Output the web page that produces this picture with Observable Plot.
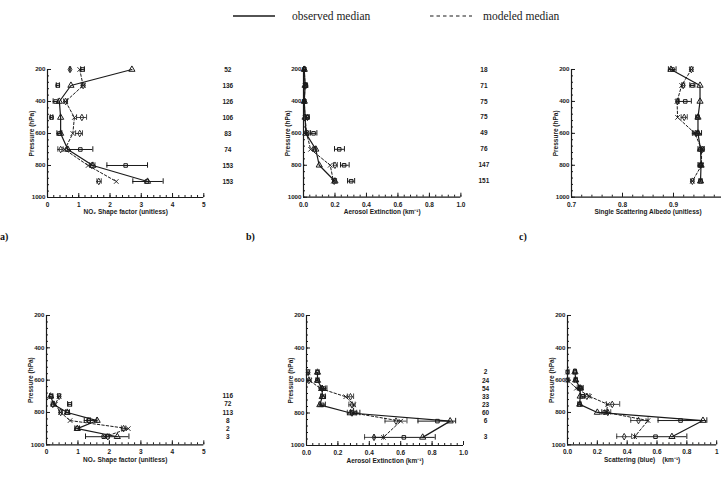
<!DOCTYPE html>
<html><head><meta charset="utf-8">
<script src="https://cdn.jsdelivr.net/npm/d3@7"></script>
<script src="https://cdn.jsdelivr.net/npm/@observablehq/plot@0.6"></script>
<style>
body{margin:0;background:#fff;}
#fig{position:relative;width:721px;height:484px;overflow:hidden;background:#fff;}
#fig svg.panel{position:absolute;}
.plab{position:absolute;font-family:"Liberation Serif","Times New Roman",serif;font-size:10px;font-weight:bold;color:#111;}
</style></head><body><div id="fig"></div>
<script>
// ---------- data ----------
const levelsTop = [200, 300, 400, 500, 600, 700, 800, 900];
const levelsD = [700, 750, 800, 850, 900, 950];
const levelsEF = [550, 600, 650, 700, 750, 800, 850, 950];

// a) NO2 shape factor, top
const aObsMed = [2.7, 0.75, 0.38, 0.42, 0.42, 0.65, 1.45, 3.2];
const aModMed = [1.03, 1.14, 0.58, 0.86, 0.81, 0.55, 1.3, 2.2];
const aObsMean = [1.12, 0.33, 0.26, 0.13, 0.38, 1.05, 2.5, 3.18];
const aObsLo = [1.06, 0.28, 0.18, 0.09, 0.3, 0.65, 1.9, 2.73];
const aObsHi = [1.18, 0.38, 0.34, 0.17, 0.46, 1.45, 3.2, 3.7];
const aModMean = [0.72, 1.14, 0.58, 1.1, 1.03, 0.42, 1.42, 1.64];
const aModLo = [0.7, 1.08, 0.52, 0.93, 0.9, 0.33, 1.35, 1.58];
const aModHi = [0.74, 1.2, 0.64, 1.25, 1.12, 0.5, 1.52, 1.72];
const aCounts = [52, 136, 126, 106, 83, 74, 153, 153];

// b) aerosol extinction, top
const bObsMed = [0.005, 0.01, 0.005, 0.01, 0.015, 0.078, 0.1, 0.2];
const bModMed = [0.005, 0.01, 0.005, 0.01, 0.02, 0.045, 0.17, 0.19];
const bObsMean = [0.005, 0.015, 0.005, 0.025, 0.064, 0.227, 0.258, 0.303];
const bObsLo = [0.0, 0.008, 0.0, 0.015, 0.045, 0.197, 0.235, 0.28];
const bObsHi = [0.01, 0.022, 0.01, 0.035, 0.085, 0.26, 0.29, 0.325];
const bModMean = [0.005, 0.015, 0.005, 0.025, 0.025, 0.07, 0.2, 0.195];
const bModLo = [0.0, 0.008, 0.0, 0.015, 0.015, 0.06, 0.19, 0.185];
const bModHi = [0.01, 0.022, 0.01, 0.035, 0.035, 0.08, 0.215, 0.21];
const bCounts = [18, 71, 75, 75, 49, 76, 147, 151];

// c) single scattering albedo, top
const cObsMed = [0.895, 0.952, 0.952, 0.948, 0.948, 0.953, 0.954, 0.953];
const cModMed = [0.935, 0.916, 0.907, 0.908, 0.942, 0.955, 0.955, 0.937];
const cObsMean = [0.898, 0.937, 0.923, 0.947, 0.947, 0.953, 0.953, 0.953];
const cObsLo = [0.89, 0.932, 0.91, 0.944, 0.937, 0.948, 0.948, 0.95];
const cObsHi = [0.905, 0.942, 0.935, 0.95, 0.955, 0.96, 0.958, 0.956];
const cModMean = [0.935, 0.919, 0.908, 0.921, 0.944, 0.957, 0.953, 0.937];
const cModLo = [0.932, 0.916, 0.905, 0.915, 0.94, 0.954, 0.95, 0.934];
const cModHi = [0.938, 0.922, 0.911, 0.927, 0.95, 0.96, 0.956, 0.94];

// d) NO2 shape factor, bottom
const dObsMed = [0.13, 0.23, 0.66, 1.61, 0.98, 2.25];
const dModMed = [0.4, 0.28, 0.45, 0.75, 2.6, 1.85];
const dObsMean = [0.15, 0.74, 0.66, 1.34, 0.97, 1.82];
const dObsLo = [0.1, 0.67, 0.6, 1.2, 0.9, 1.24];
const dObsHi = [0.2, 0.8, 0.73, 1.6, 1.05, 2.62];
const dModMean = [0.4, 0.2, 0.45, 1.35, 2.45, 1.95];
const dModLo = [0.35, 0.15, 0.4, 1.3, 2.38, 1.9];
const dModHi = [0.45, 0.25, 0.5, 1.4, 2.52, 2.0];
const dCounts = [116, 72, 113, 8, 2, 3];

// e) aerosol extinction, bottom
const eObsMed = [0.07, 0.07, 0.1, 0.1, 0.085, 0.28, 0.915, 0.74];
const eModMed = [0.01, 0.02, 0.09, 0.25, 0.3, 0.3, 0.6, 0.49];
const eObsMean = [0.07, 0.07, 0.11, 0.11, 0.1, 0.31, 0.834, 0.62];
const eObsLo = [0.06, 0.06, 0.09, 0.09, 0.08, 0.28, 0.71, 0.43];
const eObsHi = [0.08, 0.08, 0.13, 0.12, 0.12, 0.34, 0.95, 0.82];
const eModMean = [0.01, 0.015, 0.1, 0.28, 0.29, 0.29, 0.57, 0.43];
const eModLo = [0.0, 0.0, 0.08, 0.26, 0.27, 0.26, 0.5, 0.37];
const eModHi = [0.02, 0.03, 0.12, 0.3, 0.31, 0.32, 0.64, 0.49];
const eCounts = [2, 24, 54, 33, 23, 60, 6, 3];

// f) scattering (blue), bottom
const fObsMed = [0.05, 0.055, 0.085, 0.085, 0.082, 0.2, 0.908, 0.7];
const fModMed = [0.0, 0.0, 0.06, 0.147, 0.27, 0.26, 0.54, 0.45];
const fObsMean = [0.05, 0.055, 0.09, 0.1, 0.08, 0.25, 0.758, 0.59];
const fObsLo = [0.04, 0.045, 0.075, 0.085, 0.07, 0.23, 0.607, 0.45];
const fObsHi = [0.06, 0.065, 0.105, 0.115, 0.09, 0.27, 0.934, 0.8];
const fModMean = [0.0, 0.0, 0.08, 0.13, 0.3, 0.27, 0.476, 0.38];
const fModLo = [0.0, 0.0, 0.065, 0.115, 0.26, 0.25, 0.424, 0.33];
const fModHi = [0.01, 0.01, 0.095, 0.15, 0.35, 0.29, 0.54, 0.43];

const yMajor = [200, 400, 600, 800, 1000];
const xLabelNO2 = "NO\u2082 Shape factor (unitless)";
const xLabelExt = "Aerosol Extinction (km\u207B\u00B9)";
const xLabelSSA = "Single Scattering Albedo (unitless)";
const xLabelScat = "Scattering (blue)    (km\u207B\u00B9)";

// ---------- drawing ----------
const fig = document.getElementById("fig");
const INK = "#1a1a1a";
const FONT = "Liberation Sans, Arial, sans-serif";
const rng = (a, b, s) => d3.range(0, Math.round((b - a) / s) + 1).map(i => +(a + i * s).toFixed(4));

function panel(p) {
  const rows = p.levels.map((lev, i) => ({
    p: lev, om: p.obsMed[i], mm: p.modMed[i],
    oa: p.obsMean[i], olo: p.obsLo[i], ohi: p.obsHi[i],
    ma: p.modMean[i], mlo: p.modLo[i], mhi: p.modHi[i],
    n: p.counts ? p.counts[i] : null
  }));
  const mL = 48, mR = 46, mT = 8, mB = 34;
  const W = p.x1 - p.x0, H = p.y1 - p.y0;
  const cap = 17;
  const marks = [
    Plot.axisY({ticks: rng(200, 1000, 40), tickSize: -2, tickFormat: () => "", label: null, stroke: INK}),
    Plot.axisY({ticks: yMajor, tickSize: -4, tickPadding: 6, tickFormat: d => String(d), label: null, stroke: INK, fill: INK, fontSize: 6.2}),
    Plot.axisX({ticks: p.minorX, tickSize: -2, tickFormat: () => "", label: null, stroke: INK}),
    Plot.axisX({ticks: p.majorX, tickSize: -4, tickPadding: 9, tickFormat: p.fmt, label: null, stroke: INK, fill: INK}),
    Plot.ruleX([p.xDomain[0]], {stroke: INK, strokeWidth: 1.2}),
    Plot.ruleY([1000], {stroke: INK, strokeWidth: 1.2}),
    Plot.text(["Pressure (hPa)"], {frameAnchor: "left", textAnchor: "middle", lineAnchor: "middle", rotate: -90, dx: -16, fontSize: 6.5, fontWeight: "bold", fill: INK}),
    Plot.text([p.xLabel], {frameAnchor: "bottom", textAnchor: "middle", dy: 17, fontSize: 6.5, fontWeight: "bold", fill: INK}),
    // observed mean error bars
    Plot.ruleY(rows, {y: "p", x1: "olo", x2: "ohi", stroke: INK, strokeWidth: 1}),
    Plot.ruleX(rows, {x: "olo", y1: d => d.p - cap, y2: d => d.p + cap, stroke: INK}),
    Plot.ruleX(rows, {x: "ohi", y1: d => d.p - cap, y2: d => d.p + cap, stroke: INK}),
    // modeled mean error bars
    Plot.ruleY(rows, {y: "p", x1: "mlo", x2: "mhi", stroke: INK, strokeWidth: 0.8}),
    Plot.ruleX(rows, {x: "mlo", y1: d => d.p - cap, y2: d => d.p + cap, stroke: INK, strokeWidth: 0.8}),
    Plot.ruleX(rows, {x: "mhi", y1: d => d.p - cap, y2: d => d.p + cap, stroke: INK, strokeWidth: 0.8}),
    // medians
    Plot.line(rows, {x: "om", y: "p", stroke: INK, strokeWidth: 1.2}),
    Plot.line(rows, {x: "mm", y: "p", stroke: INK, strokeWidth: 1, strokeDasharray: "2.5,2"}),
    Plot.dot(rows, {x: "om", y: "p", symbol: "triangle", r: 2.3, stroke: INK, fill: "none", strokeWidth: 1}),
    Plot.dot(rows, {x: "mm", y: "p", symbol: "times", r: 2.2, stroke: INK, strokeWidth: 0.9}),
    Plot.dot(rows, {x: "oa", y: "p", symbol: "square", r: 2, stroke: INK, fill: "none", strokeWidth: 1}),
    Plot.dot(rows, {x: "ma", y: "p", symbol: "diamond", r: 2, stroke: INK, fill: "none", strokeWidth: 0.9})
  ];
  if (p.counts) marks.push(Plot.text(rows, {y: "p", text: "n", frameAnchor: "right", textAnchor: "middle", dx: p.countDx, fontSize: 6.5, fontWeight: "bold", fill: INK}));
  const svg = Plot.plot({
    width: W + mL + mR, height: H + mT + mB,
    marginLeft: mL, marginRight: mR, marginTop: mT, marginBottom: mB,
    style: {fontFamily: FONT, fontSize: "6.5px", fontWeight: "bold", color: INK, background: "transparent", overflow: "visible"},
    x: {domain: p.xDomain},
    y: {domain: [200, 1000], reverse: true},
    marks
  });
  svg.classList.add("panel");
  svg.style.left = (p.x0 - mL) + "px";
  svg.style.top = (p.y0 - mT) + "px";
  fig.appendChild(svg);
}

const fmt0 = d => String(d), fmt1 = d => d.toFixed(1);
const fmtC = d => (d >= 1 ? "" : d.toFixed(1));       // 1.0 label lies beyond the page edge
const fmtF = d => (d >= 1 ? "1" : d.toFixed(1));      // only the "1" of 1.0 shows at the edge
panel({levels: levelsTop, obsMed: aObsMed, modMed: aModMed, obsMean: aObsMean, obsLo: aObsLo, obsHi: aObsHi,
  modMean: aModMean, modLo: aModLo, modHi: aModHi, counts: aCounts, countDx: 24,
  x0: 47, x1: 203.3, y0: 69.3, y1: 197.3, xDomain: [0, 5], majorX: rng(0, 5, 1), minorX: rng(0, 5, 0.2), fmt: fmt0, xLabel: xLabelNO2});
panel({levels: levelsTop, obsMed: bObsMed, modMed: bModMed, obsMean: bObsMean, obsLo: bObsLo, obsHi: bObsHi,
  modMean: bModMean, modLo: bModLo, modHi: bModHi, counts: bCounts, countDx: 23,
  x0: 303.3, x1: 460.7, y0: 69.3, y1: 197, xDomain: [0, 1], majorX: rng(0, 1, 0.2), minorX: rng(0, 1, 0.04), fmt: fmt1, xLabel: xLabelExt});
panel({levels: levelsTop, obsMed: cObsMed, modMed: cModMed, obsMean: cObsMean, obsLo: cObsLo, obsHi: cObsHi,
  modMean: cModMean, modLo: cModLo, modHi: cModHi, counts: null,
  x0: 570.7, x1: 723.7, y0: 69.3, y1: 197, xDomain: [0.7, 1.0], majorX: rng(0.7, 1.0, 0.1), minorX: rng(0.7, 1.0, 0.02), fmt: fmtC, xLabel: xLabelSSA});
panel({levels: levelsD, obsMed: dObsMed, modMed: dModMed, obsMean: dObsMean, obsLo: dObsLo, obsHi: dObsHi,
  modMean: dModMean, modLo: dModLo, modHi: dModHi, counts: dCounts, countDx: 24,
  x0: 46, x1: 203.3, y0: 315, y1: 444.3, xDomain: [0, 5], majorX: rng(0, 5, 1), minorX: rng(0, 5, 0.2), fmt: fmt0, xLabel: xLabelNO2});
panel({levels: levelsEF, obsMed: eObsMed, modMed: eModMed, obsMean: eObsMean, obsLo: eObsLo, obsHi: eObsHi,
  modMean: eModMean, modLo: eModLo, modHi: eModHi, counts: eCounts, countDx: 22,
  x0: 305.7, x1: 462.7, y0: 315, y1: 445, xDomain: [0, 1], majorX: rng(0, 1, 0.2), minorX: rng(0, 1, 0.04), fmt: fmt1, xLabel: xLabelExt});
panel({levels: levelsEF, obsMed: fObsMed, modMed: fModMed, obsMean: fObsMean, obsLo: fObsLo, obsHi: fObsHi,
  modMean: fModMean, modLo: fModLo, modHi: fModHi, counts: null,
  x0: 567.3, x1: 716.5, y0: 315, y1: 444.3, xDomain: [0, 1], majorX: rng(0, 1, 0.2), minorX: rng(0, 1, 0.04), fmt: fmtF, xLabel: xLabelScat});

// panel letters
[["a)", 0, 231], ["b)", 246, 231], ["c)", 519, 231]].forEach(([t, x, y]) => {
  const d = document.createElement("div");
  d.className = "plab"; d.textContent = t; d.style.left = x + "px"; d.style.top = y + "px";
  fig.appendChild(d);
});

// legend
const ns = "http://www.w3.org/2000/svg";
const leg = document.createElementNS(ns, "svg");
leg.setAttribute("width", 721); leg.setAttribute("height", 30);
leg.style.position = "absolute"; leg.style.left = "0px"; leg.style.top = "0px";
leg.innerHTML =
  `<line x1="233" x2="275" y1="16" y2="16" stroke="${INK}" stroke-width="1.3"/>` +
  `<text x="292" y="20" font-family="Liberation Serif, Times New Roman, serif" font-size="11.5" fill="${INK}">observed median</text>` +
  `<line x1="430" x2="472" y1="16" y2="16" stroke="${INK}" stroke-width="1.2" stroke-dasharray="3.5,3"/>` +
  `<text x="483" y="20" font-family="Liberation Serif, Times New Roman, serif" font-size="11.5" fill="${INK}">modeled median</text>`;
fig.appendChild(leg);
</script>
</body></html>
